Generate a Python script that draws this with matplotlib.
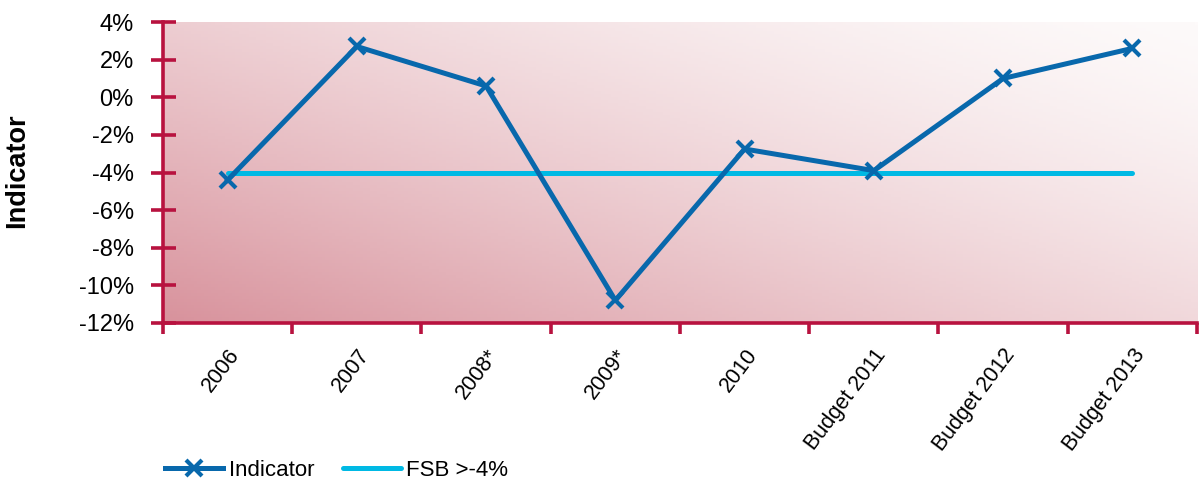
import matplotlib
matplotlib.use("Agg")
import matplotlib.pyplot as plt
import numpy as np
from matplotlib.ticker import FuncFormatter

plt.rcParams['font.family'] = ['Liberation Sans', 'DejaVu Sans']

categories = ['2006', '2007', '2008*', '2009*', '2010', 'Budget 2011', 'Budget 2012', 'Budget 2013']
indicator = [-4.4, 2.7, 0.6, -10.8, -2.75, -3.9, 1.0, 2.6]
fsb = [-4, -4, -4, -4, -4, -4, -4, -4]

spine_col = '#b8123f'
ind_col = '#0868ac'
fsb_col = '#00b9e4'

fig = plt.figure(figsize=(12, 4.79), dpi=100)
ax = fig.add_axes([0.1358, 0.3257, 0.8617, 0.6283])

x = np.arange(len(categories))
ax.set_xlim(-0.5, len(categories) - 0.5)
ax.set_ylim(-12, 4)

# diagonal background gradient, dark at bottom-left
nx, ny = 300, 100
u = np.linspace(0, 1, nx)[None, :]
v = np.linspace(0, 1, ny)[:, None]
t = ((1 - u) * 0.55 + (1 - v) * 0.45)
t = np.clip(t, 0, 1) ** 1.4
dark = np.array([216, 146, 156]) / 255.0
light = np.array([253, 250, 250]) / 255.0
img = light[None, None, :] * (1 - t[..., None]) + dark[None, None, :] * t[..., None]
ax.imshow(img, extent=[-0.5, len(categories) - 0.5, -12, 4], origin='lower',
          aspect='auto', zorder=0)

ax.plot(x, fsb, color=fsb_col, lw=3.6, solid_capstyle='round', zorder=3, label='FSB >-4%')
ax.plot(x, indicator, color=ind_col, lw=3.6, marker='x', markersize=11,
        markeredgewidth=3, zorder=4, label='Indicator')

for s in ['top', 'right']:
    ax.spines[s].set_visible(False)
for s in ['left', 'bottom']:
    ax.spines[s].set_color(spine_col)
    ax.spines[s].set_linewidth(2.6)

ax.set_yticks(np.arange(-12, 5, 2))
ax.yaxis.set_major_formatter(FuncFormatter(lambda val, pos: '%d%%' % val))
ax.tick_params(axis='y', direction='inout', length=18, width=2.6, color=spine_col,
               labelsize=17, pad=12)

ax.set_xticks(np.arange(-0.5, len(categories), 1.0))
ax.set_xticklabels([])
ax.set_xticks(x, minor=True)
ax.set_xticklabels(categories, minor=True, rotation=53, ha='right',
                   rotation_mode='anchor', fontsize=15.5)
ax.tick_params(axis='x', which='major', direction='out', length=8, width=2.6, color=spine_col)
ax.tick_params(axis='x', which='minor', length=0, pad=16)

ax.set_ylabel('Indicator', fontsize=19.5, fontweight='bold')
ax.yaxis.set_label_coords(-0.128, 0.505)

h, l = ax.get_legend_handles_labels()
fig.legend([h[1], h[0]], [l[1], l[0]], loc='lower left', bbox_to_anchor=(0.121, -0.045),
           ncol=2, frameon=False, fontsize=16, handlelength=2.6, columnspacing=1.3,
           handletextpad=0.25)

fig.savefig('out.png', dpi=100)
